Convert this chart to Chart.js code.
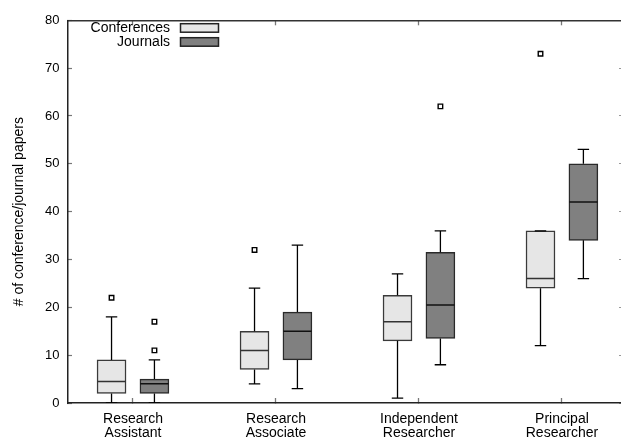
<!DOCTYPE html>
<html>
<head>
<meta charset="utf-8">
<script src="https://cdn.jsdelivr.net/npm/chart.js@4/dist/chart.umd.min.js"></script>
<style>
  html, body { margin: 0; padding: 0; background: #fff; }
  #wrap { width: 621px; height: 444px; }
</style>
</head>
<body>
<div id="wrap"><canvas id="chart"></canvas></div>
<script>
// categories on the x axis (two-line labels)
const categories = [['Research', 'Assistant'], ['Research', 'Associate'], ['Independent', 'Researcher'], ['Principal', 'Researcher']];
const seriesNames = ['Conferences', 'Journals'];

// conferences box plot values
const confMin = [0, 4, 1, 12];
const confQ1 = [2, 7, 13, 24];
const confMedian = [4.5, 11, 17, 26];
const confQ3 = [9, 15, 22.5, 36];
const confMax = [18, 24, 27, 36];
const confOutliers = [[22], [32], [], [73]];

// journals box plot values
const jourMin = [0, 3, 8, 26];
const jourQ1 = [2, 9, 13.5, 34];
const jourMedian = [4, 15, 20.5, 42];
const jourQ3 = [5, 19, 31.5, 50];
const jourMax = [9, 33, 36, 53];
const jourOutliers = [[17, 11], [], [62], []];

const yTicks = [0, 10, 20, 30, 40, 50, 60, 70, 80];

const fills = ['#e6e6e6', '#808080'];
const FONT = '"Liberation Sans", Arial, sans-serif';
const shift = 0.15;     // offset of each box from the category tick
const capHalf = 0.04;   // half width of whisker caps
const boxHalf = 0.099;  // half width of a box (for the median line)

const catX = categories.map((c, i) => i + 1);
const confX = catX.map(x => x - shift);
const jourX = catX.map(x => x + shift);

function boxData(xs, q1, q3) {
    return xs.map((x, i) => ({ x: x, y: [q1[i], q3[i]] }));
}

function whiskerData(xs, lo, q1, q3, hi) {
    const pts = [];
    xs.forEach((x, i) => {
        pts.push({ x: x, y: lo[i] }, { x: x, y: q1[i] }, { x: x, y: null });
        pts.push({ x: x, y: q3[i] }, { x: x, y: hi[i] }, { x: x, y: null });
        pts.push({ x: x - capHalf, y: lo[i] }, { x: x + capHalf, y: lo[i] }, { x: x, y: null });
        pts.push({ x: x - capHalf, y: hi[i] }, { x: x + capHalf, y: hi[i] }, { x: x, y: null });
    });
    return pts;
}

function medianData(xs, med) {
    const pts = [];
    xs.forEach((x, i) => {
        pts.push({ x: x - boxHalf, y: med[i] }, { x: x + boxHalf, y: med[i] }, { x: x, y: null });
    });
    return pts;
}

function outlierData(xs, outs) {
    const pts = [];
    xs.forEach((x, i) => outs[i].forEach(v => pts.push({ x: x, y: v })));
    return pts;
}

const lineStyle = { showLine: true, pointRadius: 0, spanGaps: false, fill: false, order: 0 };

const legendPlugin = {
    id: 'boxLegend',
    afterDraw(chart) {
        const ctx = chart.ctx;
        ctx.save();
        ctx.font = '14px ' + FONT;
        ctx.textAlign = 'right';
        ctx.textBaseline = 'middle';
        seriesNames.forEach((name, i) => {
            const y = 28.2 + i * 14;
            ctx.fillStyle = '#000';
            ctx.fillText(name, 170, y);
            ctx.fillStyle = fills[i];
            ctx.fillRect(180.5, y - 4.5, 38, 8.5);
            ctx.strokeStyle = '#222';
            ctx.lineWidth = 1.5;
            ctx.strokeRect(180.5, y - 4.5, 38, 8.5);
        });
        ctx.restore();
    }
};

Chart.defaults.color = '#000';
Chart.defaults.font.family = FONT;

new Chart(document.getElementById('chart'), {
    type: 'bar',
    data: {
        datasets: [
            { type: 'line', data: medianData(confX, confMedian), borderColor: '#333', borderWidth: 1.5, ...lineStyle },
            { type: 'line', data: medianData(jourX, jourMedian), borderColor: '#111', borderWidth: 1.5, ...lineStyle },
            { type: 'line', data: whiskerData(confX, confMin, confQ1, confQ3, confMax), borderColor: '#000', borderWidth: 1.3, ...lineStyle },
            { type: 'line', data: whiskerData(jourX, jourMin, jourQ1, jourQ3, jourMax), borderColor: '#000', borderWidth: 1.3, ...lineStyle },
            {
                type: 'scatter', data: outlierData(confX, confOutliers), pointStyle: 'rect', pointRadius: 3.2,
                backgroundColor: '#fff', borderColor: '#000', borderWidth: 1.4, order: 0
            },
            {
                type: 'scatter', data: outlierData(jourX, jourOutliers), pointStyle: 'rect', pointRadius: 3.2,
                backgroundColor: '#fff', borderColor: '#000', borderWidth: 1.4, order: 0
            },
            {
                label: seriesNames[0], data: boxData(confX, confQ1, confQ3), backgroundColor: fills[0],
                borderColor: '#3a3a3a', borderWidth: 1.5, borderSkipped: false, order: 1
            },
            {
                label: seriesNames[1], data: boxData(jourX, jourQ1, jourQ3), backgroundColor: fills[1],
                borderColor: '#2a2a2a', borderWidth: 1.5, borderSkipped: false, order: 1
            }
        ]
    },
    options: {
        responsive: true,
        maintainAspectRatio: false,
        animation: false,
        events: [],
        grouped: false,
        barThickness: 29,
        layout: { autoPadding: false, padding: { left: 0, top: 15, right: 0, bottom: 0 } },
        plugins: { legend: { display: false }, tooltip: { enabled: false } },
        scales: {
            x: {
                type: 'linear', min: 0.5455, max: 4.413, offset: false,
                afterBuildTicks: scale => { scale.ticks = catX.map(v => ({ value: v })); },
                afterFit: scale => { scale.height = 41; },
                ticks: {
                    callback: v => categories[Math.round(v) - 1] || '',
                    font: { size: 14, lineHeight: 1 }, padding: 14, maxRotation: 0, autoSkip: false
                },
                grid: { drawOnChartArea: false, offset: false, tickLength: -5, tickColor: '#777', tickWidth: 1.3 },
                border: { color: '#222', width: 1.5 }
            },
            x2: {
                type: 'linear', position: 'top', min: 0.5455, max: 4.413, offset: false,
                afterBuildTicks: scale => { scale.ticks = catX.map(v => ({ value: v })); },
                afterFit: scale => { scale.height = 0; },
                ticks: { display: false },
                grid: { drawOnChartArea: false, offset: false, tickLength: -5, tickColor: '#777', tickWidth: 1.3 },
                border: { color: '#333', width: 1.5 }
            },
            y: {
                min: 0, max: 80,
                afterBuildTicks: scale => { scale.ticks = yTicks.map(v => ({ value: v })); },
                afterFit: scale => { scale.width = 68; },
                ticks: { font: { size: 13 }, padding: 12.5 },
                grid: { drawOnChartArea: false, tickLength: -4, tickColor: '#777', tickWidth: 1.2 },
                border: { color: '#222', width: 1.5 },
                title: { display: true, text: '# of conference/journal papers', font: { size: 14 }, padding: { top: 10.5, bottom: 0 } }
            },
            y2: {
                position: 'right', min: 0, max: 80,
                afterBuildTicks: scale => { scale.ticks = yTicks.map(v => ({ value: v })); },
                afterFit: scale => { scale.width = 0; },
                ticks: { display: false },
                grid: { drawOnChartArea: false, tickLength: -2, tickColor: '#999', tickWidth: 1.2 },
                border: { display: false }
            }
        }
    },
    plugins: [legendPlugin]
});
</script>
</body>
</html>
